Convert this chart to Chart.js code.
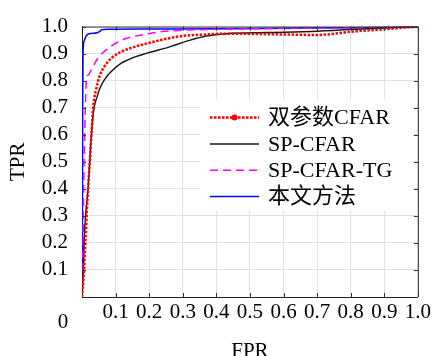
<!DOCTYPE html>
<html>
<head>
<meta charset="utf-8">
<script src="https://cdn.jsdelivr.net/npm/chart.js@4"></script>
<style>
  html, body { margin: 0; padding: 0; background: #fff; }
  #wrap { width: 434px; height: 356px; position: relative; }
</style>
</head>
<body>
<div id="wrap"><canvas id="roc" width="434" height="356"></canvas></div>
<script>
// Données des courbes ROC
const seriesNames = ['双参数CFAR', 'SP-CFAR', 'SP-CFAR-TG', '本文方法'];

const fprDual = [0, 0.006, 0.01, 0.016, 0.018, 0.023, 0.028, 0.033, 0.042, 0.052, 0.067, 0.087, 0.117, 0.156, 0.191, 0.23, 0.29, 0.37, 0.43, 0.5, 0.6, 0.7, 0.8, 0.9, 1.0];
const tprDual = [0, 0.1, 0.2, 0.36, 0.4, 0.5, 0.6, 0.7, 0.768, 0.816, 0.853, 0.883, 0.907, 0.925, 0.937, 0.949, 0.964, 0.971, 0.974, 0.973, 0.971, 0.969, 0.981, 0.99, 1.0];

const fprSp = [0, 0.004, 0.006, 0.012, 0.018, 0.023, 0.028, 0.036, 0.045, 0.052, 0.067, 0.087, 0.117, 0.156, 0.191, 0.261, 0.32, 0.37, 0.43, 0.55, 0.7, 0.9, 1.0];
const tprSp = [0, 0.1, 0.2, 0.32, 0.4, 0.5, 0.6, 0.7, 0.74, 0.768, 0.804, 0.834, 0.865, 0.887, 0.901, 0.925, 0.949, 0.965, 0.974, 0.978, 0.983, 0.995, 1.0];

const fprTg = [0, 0.003, 0.006, 0.01, 0.013, 0.02, 0.028, 0.047, 0.077, 0.107, 0.136, 0.186, 0.23, 0.29, 0.4, 0.6, 0.8, 1.0];
const tprTg = [0, 0.2, 0.5, 0.7, 0.8, 0.823, 0.841, 0.883, 0.919, 0.943, 0.958, 0.971, 0.98, 0.986, 0.99, 0.993, 0.996, 1.0];

const fprOurs = [0, 0.001, 0.002, 0.003, 0.006, 0.012, 0.018, 0.03, 0.047, 0.054, 0.058, 0.08, 0.2, 0.4, 0.6, 0.8, 1.0];
const tprOurs = [0, 0.3, 0.7, 0.9, 0.945, 0.965, 0.972, 0.975, 0.978, 0.983, 0.988, 0.99, 0.991, 0.992, 0.994, 0.996, 1.0];

const tickValues = [0.1, 0.2, 0.3, 0.4, 0.5, 0.6, 0.7, 0.8, 0.9, 1.0];
const originLabel = '0';
const xTitle = 'FPR';
const yTitle = 'TPR';

const FONT = "'Liberation Serif', 'Noto Sans CJK SC', serif";

function toPoints(xs, ys) {
    return xs.map((v, i) => ({ x: v, y: ys[i] }));
}

const styles = [
    { color: '#ff0000', width: 2.5, dash: [2.5, 1.5] },
    { color: '#1a1a1a', width: 1.5, dash: [] },
    { color: '#ff00ff', width: 1.5, dash: [8, 5] },
    { color: '#0000ff', width: 1.5, dash: [] }
];

// Cadre, graduations internes, légende et "0" de l'origine
const framePlugin = {
    id: 'framePlugin',
    afterDraw(chart) {
        const { ctx, chartArea: a, scales: { x, y } } = chart;
        ctx.save();

        // fond blanc de la légende
        const lx = a.left + 118, ly = a.top + 73;
        ctx.fillStyle = '#ffffff';
        ctx.fillRect(lx, ly, 213, 111);

        // bords haut et droite
        ctx.strokeStyle = '#333';
        ctx.lineWidth = 1;
        ctx.beginPath();
        ctx.moveTo(a.left, a.top + 0.5);
        ctx.lineTo(a.right + 0.5, a.top + 0.5);
        ctx.lineTo(a.right + 0.5, a.bottom);
        ctx.stroke();

        // graduations vers l'intérieur
        ctx.beginPath();
        tickValues.forEach(v => {
            const px = Math.round(x.getPixelForValue(v)) + 0.5;
            ctx.moveTo(px, a.bottom); ctx.lineTo(px, a.bottom - 4);
            ctx.moveTo(px, a.top); ctx.lineTo(px, a.top + 4);
            const py = Math.round(y.getPixelForValue(v)) + 0.5;
            ctx.moveTo(a.left, py); ctx.lineTo(a.left + 4, py);
            ctx.moveTo(a.right, py); ctx.lineTo(a.right - 4, py);
        });
        ctx.stroke();

        // légende
        ctx.font = '22px ' + FONT;
        ctx.textBaseline = 'middle';
        ctx.textAlign = 'left';
        seriesNames.forEach((name, i) => {
            const s = styles[i];
            const cy = ly + 18 + i * 26.3;
            ctx.strokeStyle = s.color;
            ctx.lineWidth = s.width;
            ctx.setLineDash(s.dash);
            ctx.beginPath();
            ctx.moveTo(lx + 10, cy);
            ctx.lineTo(lx + 59, cy);
            ctx.stroke();
            ctx.setLineDash([]);
            if (i === 0) {
                ctx.fillStyle = s.color;
                ctx.beginPath();
                ctx.arc(lx + 34.5, cy, 3, 0, Math.PI * 2);
                ctx.fill();
            }
            ctx.fillStyle = '#000';
            ctx.fillText(name, lx + 68, cy + 1);
        });

        // "0" commun à l'origine
        ctx.font = '21px ' + FONT;
        ctx.textAlign = 'center';
        ctx.fillText(originLabel, a.left - 19, a.bottom + 25);
        ctx.restore();
    }
};

const ctx = document.getElementById('roc').getContext('2d');
const rocChart = new Chart(ctx, {
    type: 'line',
    data: {
        datasets: [
            { label: seriesNames[0], data: toPoints(fprDual, tprDual) },
            { label: seriesNames[1], data: toPoints(fprSp, tprSp) },
            { label: seriesNames[2], data: toPoints(fprTg, tprTg) },
            { label: seriesNames[3], data: toPoints(fprOurs, tprOurs) }
        ].map((d, i) => Object.assign(d, {
            borderColor: styles[i].color,
            borderWidth: styles[i].width,
            borderDash: styles[i].dash,
            pointRadius: 0,
            fill: false,
            cubicInterpolationMode: 'monotone'
        }))
    },
    options: {
        responsive: false,
        animation: false,
        devicePixelRatio: 1,
        layout: { padding: { top: 20, right: 14, left: 0, bottom: 0 } },
        plugins: {
            legend: { display: false },
            tooltip: { enabled: false }
        },
        scales: {
            x: {
                type: 'linear',
                min: 0,
                max: 1,
                afterFit: s => { s.height = 59; },
                afterBuildTicks: s => { s.ticks = [0].concat(tickValues).map(v => ({ value: v })); },
                ticks: {
                    autoSkip: false,
                    maxRotation: 0,
                    padding: 3,
                    color: '#000',
                    font: { family: FONT, size: 21 },
                    callback: v => v === 0 ? '' : v.toFixed(1)
                },
                grid: { color: '#e2e2e2', drawTicks: false },
                border: { display: true, color: '#222', width: 1 },
                title: {
                    display: true,
                    text: xTitle,
                    color: '#000',
                    font: { family: FONT, size: 21, lineHeight: 0.4 },
                    padding: 0
                }
            },
            y: {
                type: 'linear',
                min: 0,
                max: 1,
                afterFit: s => { s.width = 82; },
                afterBuildTicks: s => { s.ticks = [0].concat(tickValues).map(v => ({ value: v })); },
                ticks: {
                    autoSkip: false,
                    padding: 14,
                    color: '#000',
                    font: { family: FONT, size: 21 },
                    callback: v => v === 0 ? '' : v.toFixed(1)
                },
                grid: { color: '#e2e2e2', drawTicks: false },
                border: { display: true, color: '#222', width: 1 },
                title: {
                    display: true,
                    text: yTitle,
                    color: '#000',
                    font: { family: FONT, size: 21, lineHeight: 1.2 },
                    padding: { top: 6, bottom: 0 }
                }
            }
        }
    },
    plugins: [framePlugin]
});
</script>
</body>
</html>
